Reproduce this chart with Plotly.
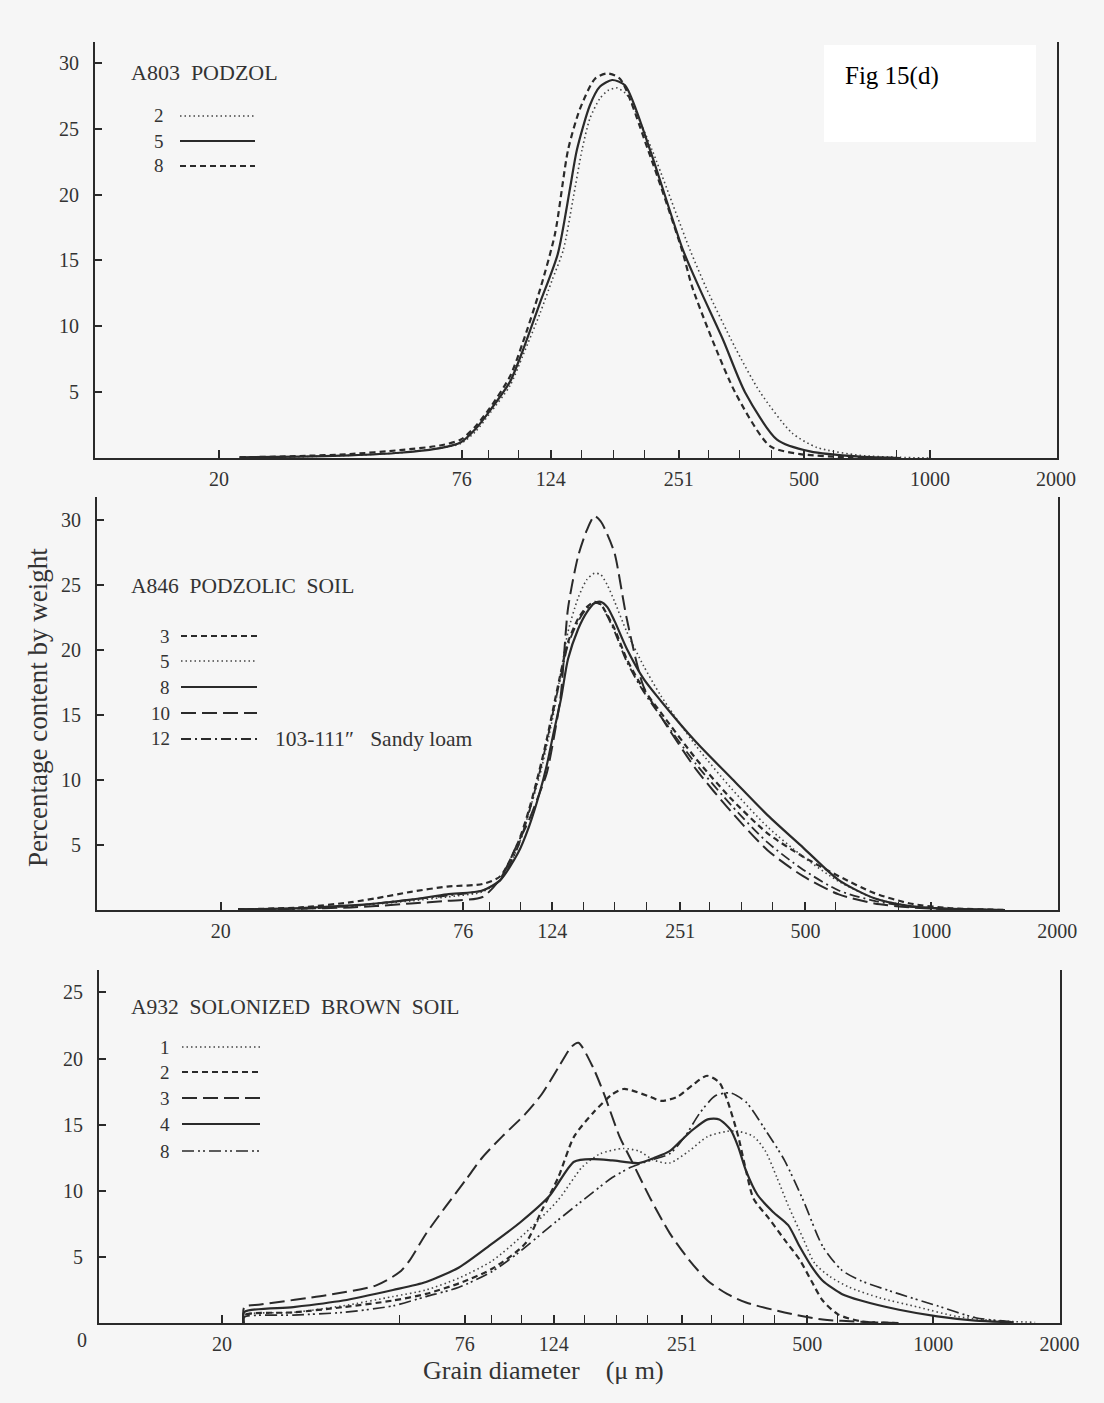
import plotly.graph_objects as go

W, H = 1104, 1403
def px(x): return x / W
def py(y): return 1 - y / H

# ---------------- DATA ----------------
# Panel 1: A803 PODZOL  (grain diameter um, percentage)
a803_d_2 = [22.4, 31.2, 41.1, 54.1, 67.5, 75.7, 82, 88.8, 99.2, 106.5, 117, 125, 133, 140, 147.4, 154, 162.7, 170, 178.6, 187, 192, 216.6, 267, 293, 342, 392.6, 468, 537, 680, 848, 1000]
a803_v_2 = [0.05, 0.1, 0.2, 0.4, 0.75, 1.1, 2.0, 3.4, 5.5, 7.8, 11.0, 13.5, 15.8, 19.5, 23.4, 25.8, 27.3, 27.9, 28.1, 27.7, 27.2, 23.4, 15.8, 12.8, 8.4, 5.0, 1.9, 0.8, 0.2, 0.05, 0.0]
a803_d_5 = [22.4, 31.2, 41.1, 54.1, 67.5, 75.7, 82, 88.8, 99.2, 106.5, 117, 129, 138, 143.3, 154, 162.7, 173.9, 186.7, 214.2, 256.8, 282, 320, 361.3, 430.8, 516.7, 680, 850]
a803_v_5 = [0.05, 0.1, 0.2, 0.4, 0.75, 1.2, 2.2, 3.6, 5.8, 8.2, 11.8, 15.5, 20.5, 23.4, 26.8, 28.2, 28.7, 28.3, 23.4, 15.8, 12.8, 9.0, 5.0, 1.4, 0.5, 0.1, 0.0]
a803_d_8 = [22.4, 31.2, 41.1, 54.1, 67.5, 75.7, 82, 88.8, 99.2, 106.5, 117, 127, 136.5, 145.7, 158.3, 169.1, 181.6, 211.9, 255.4, 271.4, 342, 414.6, 489, 644, 850]
a803_v_8 = [0.05, 0.15, 0.3, 0.6, 0.95, 1.4, 2.4, 3.8, 6.2, 8.8, 12.8, 17.0, 23.4, 26.5, 28.8, 29.2, 28.8, 23.4, 15.8, 12.8, 5.0, 0.9, 0.3, 0.05, 0.0]

# Panel 2: A846 PODZOLIC SOIL (common diameter grid)
a846_d = [22, 31, 41, 47, 57, 69.5, 84.5, 93.2, 102.8, 109.1, 115.7, 120.3, 125.1, 130.1, 135.3, 143, 150, 156.5, 162, 168, 175, 187, 205, 225.4, 274.2, 333.6, 405.8, 493.8, 600.8, 731, 889.4, 1100, 1500]
a846_v_3 = [0.05, 0.2, 0.6, 0.9, 1.4, 1.8, 2.0, 2.6, 5.2, 7.7, 10.8, 13.1, 15.7, 18.3, 20.6, 22.4, 23.3, 23.7, 23.5, 22.7, 21.6, 19.3, 17.0, 15.2, 11.6, 8.5, 5.9, 4.1, 2.6, 1.3, 0.5, 0.15, 0.0]
a846_v_5 = [0.05, 0.1, 0.3, 0.45, 0.7, 1.0, 1.4, 2.3, 4.9, 7.5, 10.3, 12.6, 15.2, 18.3, 21.4, 24.0, 25.4, 25.9, 25.8, 25.0, 23.7, 21.4, 18.8, 16.5, 12.6, 9.3, 6.4, 4.1, 2.2, 0.9, 0.3, 0.1, 0.0]
a846_v_8 = [0.05, 0.15, 0.35, 0.5, 0.8, 1.2, 1.5, 2.3, 4.4, 6.4, 9.0, 11.1, 13.7, 16.2, 19.3, 21.6, 22.9, 23.6, 23.7, 23.3, 22.2, 20.1, 17.8, 16.1, 12.9, 10.1, 7.3, 4.8, 2.3, 0.9, 0.3, 0.1, 0.0]
a846_v_10 = [0.05, 0.1, 0.2, 0.3, 0.5, 0.7, 1.0, 2.4, 5.2, 6.9, 9.0, 10.5, 13.2, 16.6, 23.2, 27.2, 29.2, 30.3, 29.9, 28.9, 27.4, 22.4, 17.2, 14.9, 10.8, 7.5, 4.6, 2.6, 1.2, 0.5, 0.2, 0.05, 0.0]
a846_v_12 = [0.05, 0.1, 0.3, 0.5, 0.8, 1.1, 1.5, 2.3, 4.9, 7.5, 10.6, 12.9, 15.5, 18.0, 20.4, 22.2, 23.2, 23.6, 23.5, 22.6, 21.4, 19.1, 16.8, 14.9, 11.2, 8.0, 5.2, 3.1, 1.5, 0.7, 0.25, 0.08, 0.0]

# Panel 3: A932 SOLONIZED BROWN SOIL
a932_d_1 = [22.5, 22.6, 29.6, 38.9, 51.2, 61.4, 73.6, 88.3, 105.9, 127, 145, 160, 182, 198, 215.6, 234.5, 260.5, 289, 321.5, 342, 372, 397, 423, 450, 490, 521, 567, 630, 745, 920, 1135, 1400, 1750]
a932_v_1 = [0.0, 0.6, 0.8, 1.3, 2.0, 2.5, 3.4, 4.7, 6.8, 9.3, 11.8, 12.8, 13.2, 13.0, 12.3, 12.1, 13.0, 14.1, 14.5, 14.5, 14.1, 13.0, 11.0, 8.9, 6.3, 4.5, 3.5, 2.7, 1.9, 1.2, 0.5, 0.18, 0.05]
a932_d_2 = [22.5, 22.6, 29.6, 38.9, 51.2, 61.4, 73.6, 88.3, 105.9, 116, 127, 138.6, 154, 171, 182, 190, 211, 224, 244.5, 266, 288, 308, 321.5, 342, 357, 372, 405, 441, 479, 511, 544, 592, 671, 828]
a932_v_2 = [0.0, 0.6, 0.8, 1.2, 1.7, 2.2, 3.0, 4.1, 6.0, 8.5, 11.0, 14.1, 15.9, 17.3, 17.7, 17.6, 17.1, 16.8, 17.1, 18.0, 18.7, 18.2, 16.9, 14.1, 11.5, 9.4, 7.9, 6.3, 4.8, 3.2, 1.7, 0.65, 0.13, 0.0]
a932_d_3 = [22.5, 22.6, 24.7, 35.5, 46.7, 53.1, 56, 61.4, 68.4, 76.3, 83.6, 93.3, 105.9, 116, 127, 136.7, 142, 154, 164, 178, 190, 211, 234.5, 260.5, 289, 321.5, 357, 441, 544, 671, 828]
a932_v_3 = [0.0, 1.2, 1.4, 2.1, 2.85, 3.85, 4.7, 6.75, 8.8, 10.8, 12.5, 14.1, 15.8, 17.3, 19.3, 20.9, 21.2, 19.3, 17.2, 14.1, 12.3, 9.4, 6.8, 4.8, 3.2, 2.2, 1.55, 0.8, 0.26, 0.1, 0.0]
a932_d_4 = [22.5, 22.6, 29.6, 38.9, 51.2, 61.4, 73.6, 88.3, 103, 121, 138.6, 154, 171, 198, 215.6, 234.5, 249.7, 266, 289, 308, 328, 342, 357, 380, 414, 450, 479, 511, 544, 604, 671, 828, 1022, 1261, 1556]
a932_v_4 = [0.0, 0.83, 1.2, 1.7, 2.5, 3.1, 4.2, 6.0, 7.6, 9.6, 12.2, 12.4, 12.3, 12.1, 12.5, 13.0, 13.8, 14.6, 15.4, 15.4, 14.6, 13.3, 11.5, 9.7, 8.4, 7.4, 5.8, 4.3, 3.2, 2.2, 1.7, 1.0, 0.5, 0.18, 0.05]
a932_d_8 = [22.5, 22.6, 29.6, 38.9, 51.2, 61.4, 73.6, 88.3, 101, 124.8, 154, 171, 190, 211, 234.5, 255, 277, 302, 328, 357, 397, 441, 490, 544, 604, 671, 828, 1022, 1261, 1556]
a932_v_8 = [0.0, 0.45, 0.6, 0.8, 1.3, 2.0, 2.7, 3.9, 5.2, 7.6, 9.9, 11.0, 11.8, 12.3, 12.8, 14.1, 15.9, 17.2, 17.4, 16.7, 14.6, 12.3, 9.2, 5.8, 4.0, 3.2, 2.2, 1.3, 0.4, 0.08]

# Tick labels
x_tick_vals = [20, 76, 124, 251, 500, 1000, 2000]
x_tick_text = ["20", "76", "124", "251", "500", "1000", "2000"]
x_minor_top = [88, 104, 147, 175, 208, 295, 351, 417, 589, 833]
x_minor_bottom = [53, 88, 104, 147, 175, 208, 295, 351, 417, 589]
y_ticks_top = [5, 10, 15, 20, 25, 30]
y_ticks_bottom = [5, 10, 15, 20, 25]

# ---------------- STYLES ----------------
INK = "#2a2a2a"
FONT = "Liberation Serif, DejaVu Serif, serif"
STY = {
    "dot": dict(dash="1.5px,3px", width=1.6, color="#444"),
    "solid": dict(dash="solid", width=2.2, color=INK),
    "dash": dict(dash="6px,4px", width=2.2, color=INK),
    "long": dict(dash="15px,6px", width=2.0, color=INK),
    "dashdot": dict(dash="10px,4px,2px,4px", width=1.8, color=INK),
    "dashdotdot": dict(dash="12px,4px,2px,3px,2px,4px", width=1.7, color=INK),
}

fig = go.Figure()

def add(xs, ys, style, ax, name):
    fig.add_trace(go.Scatter(
        x=xs, y=ys, mode="lines", name=name, showlegend=False,
        line=dict(shape="spline", smoothing=0.7, **STY[style]),
        xaxis=ax[0], yaxis=ax[1], hoverinfo="skip"))

P1, P2, P3 = ("x", "y"), ("x2", "y2"), ("x3", "y3")
add(a803_d_2, a803_v_2, "dot", P1, "2")
add(a803_d_5, a803_v_5, "solid", P1, "5")
add(a803_d_8, a803_v_8, "dash", P1, "8")

add(a846_d, a846_v_3, "dash", P2, "3")
add(a846_d, a846_v_5, "dot", P2, "5")
add(a846_d, a846_v_8, "solid", P2, "8")
add(a846_d, a846_v_10, "long", P2, "10")
add(a846_d, a846_v_12, "dashdot", P2, "12")

add(a932_d_1, a932_v_1, "dot", P3, "1")
add(a932_d_2, a932_v_2, "dash", P3, "2")
add(a932_d_3, a932_v_3, "long", P3, "3")
add(a932_d_4, a932_v_4, "solid", P3, "4")
add(a932_d_8, a932_v_8, "dashdotdot", P3, "8")

# ---------------- AXES ----------------
TICKFONT = dict(family=FONT, size=20, color="#333")

def xax(dom, rng, minor, anchor):
    return dict(domain=[px(dom[0]), px(dom[1])], anchor=anchor, type="log", range=rng,
                automargin=False,
                tickmode="array", tickvals=x_tick_vals, ticktext=x_tick_text,
                ticks="inside", ticklen=8, tickwidth=1.5, tickcolor=INK,
                minor=dict(tickmode="array", tickvals=minor, ticks="inside", ticklen=8,
                           tickwidth=1.3, tickcolor=INK, showgrid=False),
                showline=True, linewidth=2, linecolor=INK, mirror=False,
                showgrid=False, zeroline=False, ticklabelstandoff=2,
                tickfont=TICKFONT)

def yax(dom, rng, ticks, anchor):
    return dict(domain=[py(dom[0]), py(dom[1])], anchor=anchor, range=rng,
                automargin=False,
                tickmode="array", tickvals=ticks, ticks="inside", ticklen=7,
                tickwidth=1.5, tickcolor=INK, showline=True, linewidth=2,
                linecolor=INK, mirror=True, showgrid=False, zeroline=False,
                ticklabelstandoff=10, tickfont=TICKFONT)

fig.update_layout(
    width=W, height=H, margin=dict(l=0, r=0, t=0, b=0, autoexpand=False),
    paper_bgcolor="#f6f6f6", plot_bgcolor="rgba(0,0,0,0)",
    showlegend=False,
    xaxis=xax((95, 1057), [1.0047, 3.3034], x_minor_top, "y"),
    yaxis=yax((458, 41.8), [0, 31.6], y_ticks_top, "x"),
    xaxis2=xax((97, 1058), [1.005, 3.303], x_minor_top, "y2"),
    yaxis2=yax((910, 496.6), [0, 31.8], y_ticks_top, "x2"),
    xaxis3=xax((99, 1060), [1.007, 3.3025], x_minor_bottom, "y3"),
    yaxis3=yax((1323, 970), [0, 26.7], y_ticks_bottom, "x3"),
)

# ---------------- TEXT & LEGEND KEYS ----------------
ann = []
shapes = []

def text(x, y, s, size=20, anchor="left", color="#333", family=FONT, angle=0):
    ann.append(dict(x=px(x), y=py(y), xref="paper", yref="paper", text=s, showarrow=False,
                    xanchor=anchor, yanchor="middle", textangle=angle,
                    font=dict(family=family, size=size, color=color)))

def key(x0, x1, y, style):
    st = STY[style]
    shapes.append(dict(type="line", xref="paper", yref="paper", x0=px(x0), x1=px(x1),
                       y0=py(y), y1=py(y), line=dict(color=st["color"], width=st["width"], dash=st["dash"])))

# Panel 1
text(129, 73, "A803  PODZOL", size=22)
for lab, yy, st in [("2", 116, "dot"), ("5", 141, "solid"), ("8", 166, "dash")]:
    text(166, yy, lab, anchor="right", size=19)
    key(180, 255, yy, st)

# Panel 2
text(129, 586, "A846  PODZOLIC  SOIL", size=21.5)
for lab, yy, st in [("3", 636, "dash"), ("5", 661, "dot"), ("8", 687, "solid"),
                    ("10", 713, "long"), ("12", 739, "dashdot")]:
    text(172, yy, lab, anchor="right", size=19)
    key(181, 257, yy, st)
text(273, 739, "103-111\u2033   Sandy loam", size=21.5)

# Panel 3
text(129, 1007, "A932  SOLONIZED  BROWN  SOIL", size=21.5)
for lab, yy, st in [("1", 1047, "dot"), ("2", 1072, "dash"), ("3", 1098, "long"),
                    ("4", 1124, "solid"), ("8", 1151, "dashdotdot")]:
    text(172, yy, lab, anchor="right", size=19)
    key(182, 260, yy, st)

# corner zero of bottom panel
text(82, 1340, "0", anchor="center", size=20)

# axis titles
text(38, 708, "Percentage content by weight", size=27, anchor="center", angle=-90)
text(543, 1370, "Grain diameter    (\u03bc m)", size=26, anchor="center")

# figure label box
shapes.append(dict(type="rect", xref="paper", yref="paper", x0=px(824), x1=px(1036),
                   y0=py(142), y1=py(45), fillcolor="white", line=dict(width=0), layer="below"))
text(843, 76, "Fig 15(d)", size=25, color="#000", family="Liberation Serif, Times New Roman, serif")

fig.update_layout(annotations=ann, shapes=shapes)
fig.write_html("out.html")
